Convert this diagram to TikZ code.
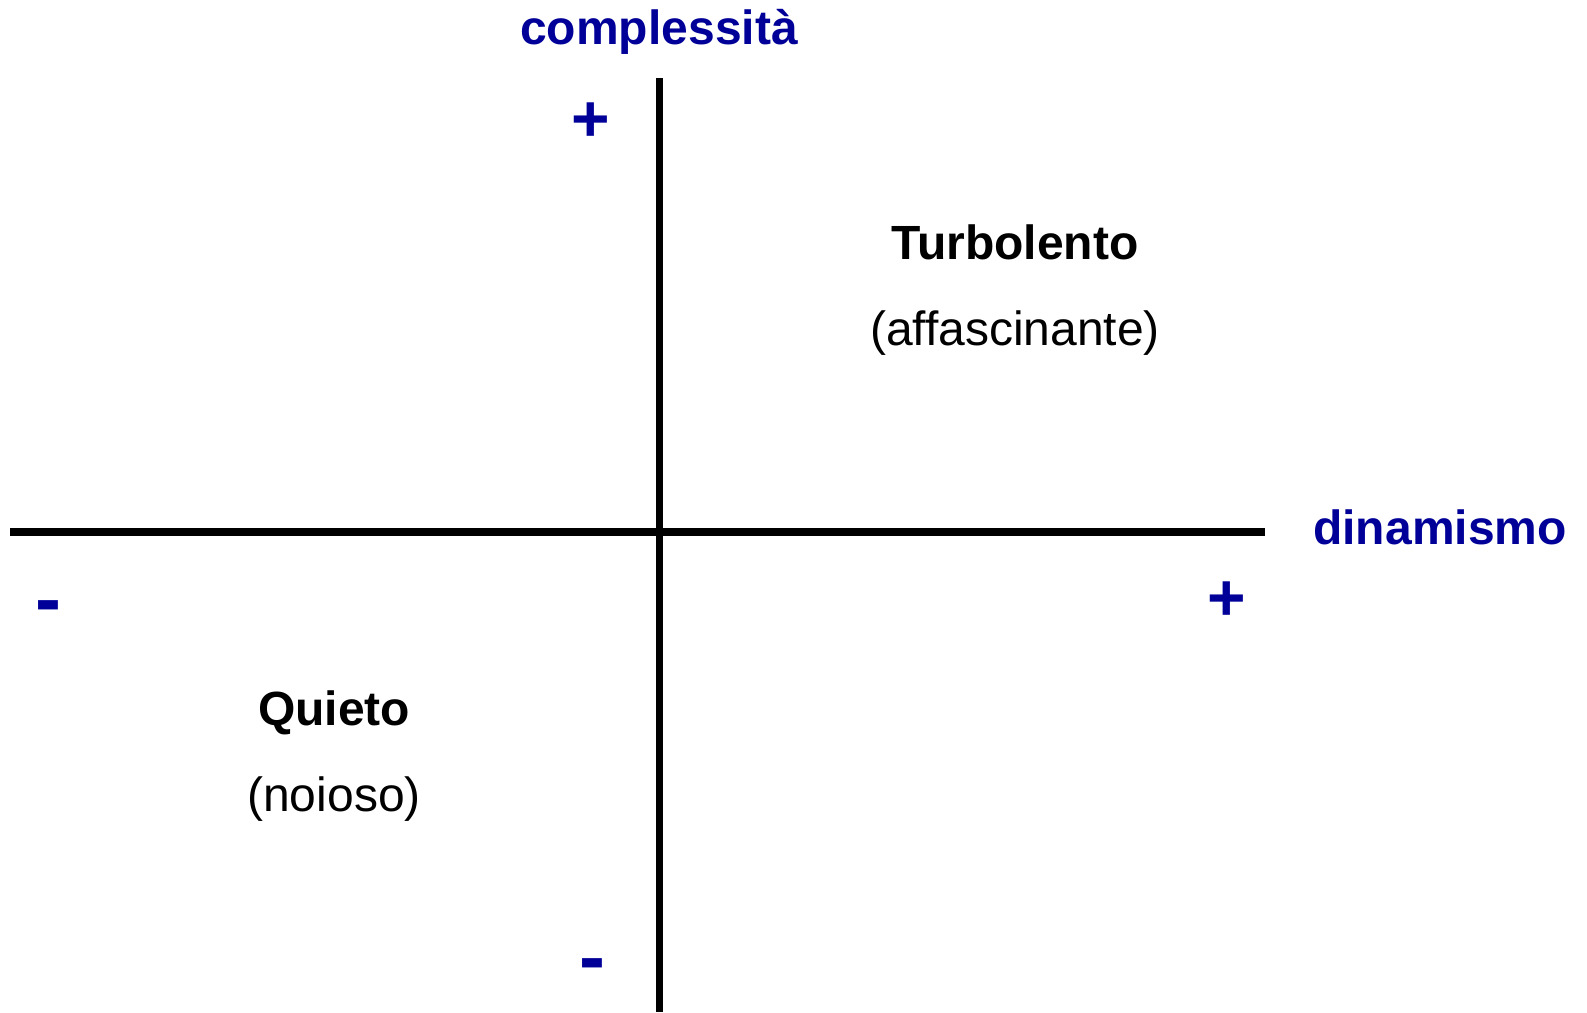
\documentclass[tikz,border=0pt]{standalone}
\usepackage{fontspec}
\setmainfont{Liberation Sans}
\definecolor{axisblue}{HTML}{000099}
\begin{document}
\begin{tikzpicture}[x=1pt,y=-1pt,
  axislabel/.style={inner sep=0pt, text=axisblue, font=\fontsize{48}{56}\selectfont\bfseries},
  signlabel/.style={inner sep=0pt, text=axisblue, font=\fontsize{66}{76}\selectfont\bfseries},
  minuslabel/.style={inner sep=0pt, anchor=base, text=axisblue, font=\fontsize{78}{90}\selectfont\bfseries},
  titlelabel/.style={inner sep=0pt, font=\fontsize{48}{56}\selectfont\bfseries},
  sublabel/.style={inner sep=0pt, font=\fontsize{48}{56}\selectfont},
  axisline/.style={line width=8pt, line cap=butt}]
\useasboundingbox[fill=white] (0,0) rectangle (1587,1012);
\coordinate (hL) at (10,532);
\coordinate (hR) at (1265,532);
\coordinate (vT) at (659.5,78);
\coordinate (vB) at (659.5,1012);
\draw[axisline] (hL) -- (hR);
\draw[axisline, line width=7.5pt] (vT) -- (vB);
\node[axislabel] (ylab) at (659,32) {complessità};
\node[axislabel] (xlab) at (1440,527) {dinamismo};
\node[signlabel] (yplus) at (591,122) {+};
\node[signlabel] (xplus) at (1227,601) {+};
\node[minuslabel] (xminus) at (48,625) {-};
\node[minuslabel] (yminus) at (592,983) {-};
\node[titlelabel] (turb) at (1015,242) {Turbolento};
\node[sublabel] (aff) at (1015,333) {(affascinante)};
\node[titlelabel] (quiet) at (334,713) {Quieto};
\node[sublabel] (noi) at (334,799) {(noioso)};
\end{tikzpicture}
\end{document}
